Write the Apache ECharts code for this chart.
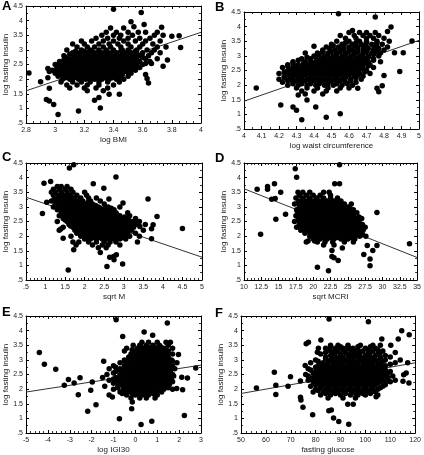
<!DOCTYPE html>
<html><head><meta charset="utf-8">
<script src="https://cdn.jsdelivr.net/npm/echarts@6/dist/echarts.min.js"></script>
<style>html,body{margin:0;padding:0;background:#fff}#c{width:424px;height:455px}</style>
</head><body><div id="c"></div>
<script>
// ---------- DATA ----------
const insulinName = 'log fasting insulin';
const yTickMin = 0.5, yTickMax = 4.5, yTickStep = 0.5;

// Panel A: log BMI
const bmiOutliers = [[3.40,4.39],[3.59,4.28],[2.82,2.21],[2.90,1.91],[2.95,2.05],[2.95,2.36],[2.96,2.26],[2.96,1.69],[2.94,1.30],[2.96,1.25],[2.99,1.13],[3.02,0.79],[3.16,0.91],[3.27,1.28],[3.30,1.37],[3.31,1.01],[3.37,1.48],[3.44,1.48],[3.52,3.96],[3.54,3.79],[3.61,3.87],[3.73,3.77],[3.80,3.47],[3.85,3.48],[3.86,3.08],[3.77,2.65],[3.74,2.44],[3.62,2.16],[3.63,2.02],[3.64,1.87],[3.62,2.53],[3.66,2.53]];
const bmiRows = [
 [3.75,[3.38,3.47]],
 [3.6,[3.35,3.42,3.5,3.57,3.62,3.7]],
 [3.5,[3.32,3.4,3.45,3.53,3.68,3.74]],
 [3.4,[3.28,3.36,3.44,3.5,3.58,3.65]],
 [3.3,[3.18,3.25,3.33,3.4,3.47,3.55,3.62,3.72]],
 [3.2,[3.12,3.2,3.3,3.37,3.43,3.5,3.6,3.67]],
 [3.1,[3.15,3.22,3.27,3.33,3.38,3.45,3.52,3.58,3.7,3.76]],
 [3.0,[3.08,3.18,3.24,3.3,3.35,3.4,3.46,3.5,3.56,3.63,3.68]],
 [2.9,[3.12,3.17,3.22,3.27,3.32,3.37,3.42,3.47,3.52,3.6,3.66,3.72]],
 [2.8,[3.06,3.13,3.18,3.23,3.28,3.33,3.38,3.43,3.48,3.53,3.58,3.64]],
 [2.7,[3.1,3.15,3.2,3.25,3.3,3.35,3.4,3.45,3.5,3.55,3.62,3.7]],
 [2.6,[3.03,3.08,3.13,3.18,3.23,3.28,3.33,3.38,3.43,3.48,3.53,3.58,3.65]],
 [2.5,[3.0,3.06,3.11,3.16,3.21,3.26,3.31,3.36,3.41,3.46,3.51,3.56,3.6]],
 [2.4,[3.02,3.08,3.13,3.18,3.23,3.28,3.33,3.38,3.43,3.48,3.53,3.58]],
 [2.3,[2.98,3.04,3.09,3.14,3.19,3.24,3.29,3.34,3.39,3.44,3.5,3.55]],
 [2.2,[3.0,3.06,3.11,3.16,3.21,3.26,3.31,3.36,3.41,3.46,3.52]],
 [2.1,[3.02,3.08,3.13,3.18,3.23,3.28,3.33,3.38,3.43,3.5]],
 [2.0,[3.05,3.1,3.16,3.21,3.27,3.32,3.37,3.42,3.47]],
 [1.9,[3.04,3.12,3.18,3.24,3.3,3.36,3.44]],
 [1.8,[3.08,3.15,3.22,3.3,3.4]],
 [1.7,[3.1,3.2,3.28,3.36]],
 [1.6,[3.22,3.33]],
 [2.95,[3.14,3.2,3.25,3.3,3.35,3.4,3.45,3.5,3.55]],
 [2.85,[3.1,3.16,3.21,3.26,3.31,3.36,3.41,3.46,3.51,3.56]],
 [2.75,[3.07,3.13,3.18,3.23,3.28,3.33,3.38,3.43,3.48,3.53,3.6]],
 [2.65,[3.06,3.11,3.16,3.21,3.26,3.31,3.36,3.41,3.46,3.51,3.56]],
 [2.55,[3.03,3.09,3.14,3.19,3.24,3.29,3.34,3.39,3.44,3.49,3.54]],
 [2.45,[3.05,3.1,3.15,3.2,3.25,3.3,3.35,3.4,3.45,3.5,3.55]],
 [2.35,[3.01,3.07,3.12,3.17,3.22,3.27,3.32,3.37,3.42,3.47,3.52]],
 [2.25,[3.03,3.08,3.13,3.18,3.23,3.28,3.33,3.38,3.43,3.49]],
 [2.15,[3.05,3.1,3.15,3.2,3.25,3.3,3.35,3.4,3.46]],
 [2.05,[3.07,3.13,3.18,3.24,3.29,3.34,3.39,3.44]]
];
const bmiFit = [[2.8,1.60],[4.0,3.60]];
const bmiTicks = {min:2.8, max:4, step:0.2, minor:4};

// Panel B: log waist circumference
const waistOutliers = [[4.54,4.44],[4.75,4.33],[4.07,1.90],[4.21,1.32],[4.28,1.25],[4.30,1.14],[4.33,0.82],[4.41,1.25],[4.47,0.90],[4.55,1.02],[4.31,1.66],[4.36,1.49],[4.84,3.99],[4.96,3.51],[4.91,3.11],[4.86,3.11],[4.89,2.47],[4.80,2.33],[4.76,1.89],[4.77,1.77],[4.79,1.98],[4.65,1.89],[4.82,3.83],[4.40,3.33],[4.62,3.87]];
const waistRows = [
 [3.8,[4.6,4.66,4.7,4.75]],
 [3.7,[4.55,4.63,4.68,4.72,4.77]],
 [3.6,[4.58,4.64,4.7,4.74,4.8]],
 [3.5,[4.53,4.6,4.66,4.7,4.76,4.83]],
 [3.4,[4.5,4.56,4.62,4.67,4.73,4.79]],
 [3.3,[4.47,4.54,4.6,4.65,4.7,4.76,4.82]],
 [3.2,[4.45,4.52,4.57,4.62,4.68,4.74,4.8]],
 [3.1,[4.35,4.42,4.48,4.53,4.58,4.63,4.68,4.73,4.78]],
 [3.0,[4.4,4.46,4.51,4.56,4.61,4.66,4.71,4.77]],
 [2.9,[4.33,4.38,4.44,4.49,4.54,4.59,4.64,4.69,4.74]],
 [2.8,[4.28,4.35,4.41,4.46,4.51,4.56,4.61,4.66,4.71,4.78]],
 [2.7,[4.25,4.31,4.37,4.42,4.47,4.52,4.57,4.62,4.67,4.72]],
 [2.6,[4.22,4.28,4.33,4.38,4.43,4.48,4.53,4.58,4.63,4.68,4.74]],
 [2.5,[4.25,4.3,4.35,4.4,4.45,4.5,4.55,4.6,4.65,4.7]],
 [2.4,[4.2,4.26,4.31,4.36,4.41,4.46,4.51,4.56,4.61,4.66,4.72]],
 [2.3,[4.23,4.28,4.33,4.38,4.43,4.48,4.53,4.58,4.63,4.68]],
 [2.2,[4.2,4.26,4.31,4.36,4.41,4.46,4.51,4.56,4.61,4.67]],
 [2.1,[4.22,4.28,4.33,4.38,4.43,4.48,4.53,4.58,4.64]],
 [2.0,[4.25,4.31,4.36,4.41,4.46,4.51,4.56,4.62]],
 [1.9,[4.3,4.36,4.42,4.48,4.55,4.6]],
 [1.8,[4.33,4.4,4.47,4.53]],
 [1.7,[4.35,4.45]],
 [3.45,[4.58,4.64,4.7,4.76]],
 [3.35,[4.51,4.57,4.63,4.68,4.74]],
 [3.25,[4.49,4.55,4.6,4.65,4.71,4.77]],
 [3.15,[4.45,4.5,4.55,4.6,4.65,4.7,4.76]],
 [3.05,[4.43,4.48,4.53,4.58,4.63,4.68,4.74]],
 [2.95,[4.36,4.41,4.46,4.51,4.56,4.61,4.66,4.71]],
 [2.85,[4.31,4.38,4.43,4.48,4.53,4.58,4.63,4.68,4.74]],
 [2.75,[4.28,4.34,4.39,4.44,4.49,4.54,4.59,4.64,4.69]],
 [2.65,[4.25,4.3,4.35,4.4,4.45,4.5,4.55,4.6,4.65,4.71]],
 [2.55,[4.27,4.32,4.37,4.42,4.47,4.52,4.57,4.62,4.67]],
 [2.45,[4.23,4.28,4.33,4.38,4.43,4.48,4.53,4.58,4.63,4.69]],
 [2.35,[4.25,4.3,4.35,4.4,4.45,4.5,4.55,4.6,4.65]],
 [2.25,[4.23,4.28,4.33,4.38,4.43,4.48,4.53,4.58,4.64]],
 [2.15,[4.25,4.3,4.35,4.4,4.45,4.5,4.55,4.61]],
 [2.05,[4.28,4.33,4.38,4.43,4.48,4.53,4.59]]
];
const waistFit = [[4.0,1.45],[5.0,3.53]];
const waistTicks = {min:4, max:5, step:0.1, minor:2};

// Panel C: sqrt M
const sqrtMOutliers = [[1.72,4.44],[1.61,4.33],[2.80,4.02],[0.92,2.77],[0.96,3.81],[1.13,3.87],[1.03,3.16],[3.62,3.27],[3.85,2.67],[4.50,2.26],[1.58,0.84],[2.57,0.96],[2.97,1.05],[2.74,1.30],[2.81,1.36],[2.64,1.28],[2.75,1.19],[2.40,1.44],[1.72,1.53],[1.78,1.70],[2.49,3.64],[2.22,3.79],[2.62,3.27],[2.98,3.13],[3.71,1.91],[3.71,2.25],[3.75,2.39],[3.34,2.44],[3.41,2.33],[1.45,1.93],[1.39,2.24]];
const sqrtMRows = [
 [3.7,[1.3,1.4,1.55]],
 [3.6,[1.2,1.35,1.5,1.65]],
 [3.5,[1.15,1.25,1.4,1.55,1.7,2.0]],
 [3.4,[1.2,1.3,1.45,1.6,1.8,2.05]],
 [3.3,[1.3,1.4,1.55,1.7,1.9,2.1,2.3]],
 [3.2,[1.15,1.35,1.5,1.65,1.8,1.95,2.15,2.4]],
 [3.1,[1.25,1.4,1.55,1.7,1.85,2.0,2.2,2.5]],
 [3.0,[1.2,1.35,1.5,1.62,1.75,1.9,2.05,2.2,2.35,2.6,2.9]],
 [2.9,[1.3,1.45,1.58,1.7,1.82,1.95,2.08,2.2,2.33,2.45,2.6,2.75]],
 [2.8,[1.4,1.52,1.65,1.77,1.9,2.02,2.15,2.27,2.4,2.52,2.65,2.8,3.1]],
 [2.7,[1.35,1.5,1.62,1.75,1.87,2.0,2.12,2.25,2.37,2.5,2.62,2.75,2.9,3.15]],
 [2.6,[1.45,1.58,1.7,1.83,1.95,2.08,2.2,2.32,2.45,2.57,2.7,2.82,2.95,3.1,3.3]],
 [2.5,[1.3,1.55,1.68,1.8,1.92,2.05,2.17,2.3,2.42,2.55,2.67,2.8,2.92,3.05,3.2,3.4]],
 [2.4,[1.6,1.75,1.88,2.0,2.12,2.25,2.37,2.5,2.62,2.75,2.87,3.0,3.15,3.3,3.55]],
 [2.3,[1.45,1.7,1.82,1.95,2.07,2.2,2.32,2.45,2.57,2.7,2.82,2.95,3.1,3.25]],
 [2.2,[1.35,1.75,1.9,2.02,2.15,2.27,2.4,2.52,2.65,2.77,2.9,3.02,3.2,3.5]],
 [2.1,[1.8,1.95,2.1,2.22,2.35,2.47,2.6,2.72,2.85,2.97,3.1,3.3]],
 [2.0,[1.65,1.9,2.05,2.2,2.32,2.45,2.57,2.7,2.82,2.95,3.15,3.4]],
 [1.9,[2.0,2.15,2.3,2.45,2.6,2.75,2.9,3.05]],
 [1.8,[1.7,1.85,2.1,2.3,2.5,2.65,2.8,3.35]],
 [1.7,[2.2,2.45,2.6,2.9]],
 [1.6,[2.35,2.55]],
 [3.35,[1.25,1.37,1.5,1.65]],
 [3.25,[1.22,1.42,1.58,1.74,1.88]],
 [3.15,[1.32,1.47,1.62,1.76,1.9,2.08]],
 [3.05,[1.28,1.43,1.56,1.68,1.82,1.97,2.12,2.28]],
 [2.95,[1.38,1.51,1.64,1.76,1.88,2.01,2.14,2.27,2.4,2.53,2.68]],
 [2.85,[1.46,1.58,1.71,1.83,1.96,2.08,2.21,2.33,2.46,2.58,2.72]],
 [2.75,[1.44,1.56,1.68,1.81,1.93,2.06,2.18,2.31,2.43,2.56,2.68,2.82]],
 [2.65,[1.52,1.64,1.77,1.89,2.01,2.14,2.26,2.38,2.51,2.63,2.76,2.88,3.02]],
 [2.55,[1.5,1.62,1.74,1.86,1.98,2.11,2.23,2.36,2.48,2.61,2.73,2.86,2.98,3.12]],
 [2.45,[1.68,1.81,1.94,2.06,2.18,2.31,2.43,2.56,2.68,2.81,2.93,3.07,3.22]],
 [2.35,[1.64,1.76,1.88,2.01,2.13,2.26,2.38,2.51,2.63,2.76,2.88,3.02,3.17]],
 [2.25,[1.82,1.96,2.08,2.21,2.33,2.46,2.58,2.71,2.83,2.96,3.1]],
 [2.15,[1.88,2.02,2.16,2.28,2.41,2.53,2.66,2.78,2.91,3.04]],
 [2.05,[1.98,2.12,2.26,2.39,2.51,2.64,2.76,2.89,3.05]],
 [1.95,[2.08,2.22,2.38,2.52,2.67,2.82,2.98]]
];
const sqrtMFit = [[0.5,3.33],[5.0,1.28]];
const sqrtMTicks = {min:0.5, max:5, step:0.5, minor:5};

// Panel D: sqrt MCRI
const mcriOutliers = [[11.9,3.60],[12.4,2.06],[13.4,3.70],[13.4,3.60],[14.4,3.79],[14.0,3.26],[14.5,3.29],[14.6,2.58],[15.3,3.50],[16.0,2.75],[17.4,4.30],[17.6,4.01],[23.8,4.44],[23.1,3.79],[23.8,3.79],[33.9,1.74],[29.2,2.81],[29.2,1.68],[28.6,1.51],[27.8,1.68],[28.2,1.22],[28.2,0.99],[27.3,1.37],[20.6,0.94],[22.2,0.82],[22.7,1.30],[23.0,1.26],[23.6,1.17],[22.7,1.51],[24.2,1.59],[20.2,1.83],[20.4,1.99],[19.25,1.83]];
const mcriRows = [
 [3.5,[17.8,18.5,19.5,21.5,22.3]],
 [3.4,[18.0,19.0,20.0,21.0,22.5]],
 [3.3,[17.5,18.5,19.5,20.5,21.5,22.5,23.5]],
 [3.2,[18.0,19.0,20.0,21.0,22.0,23.0,24.0]],
 [3.1,[17.3,18.5,19.5,20.5,21.5,22.5,23.5,24.5,25.5]],
 [3.0,[18.0,19.0,20.0,21.0,22.0,23.0,24.0,25.0]],
 [2.9,[17.6,18.6,19.5,20.4,21.3,22.2,23.1,24.0,24.9,25.8]],
 [2.8,[18.2,19.1,20.0,20.9,21.8,22.7,23.6,24.5,25.4,26.3]],
 [2.7,[17.5,18.6,19.5,20.4,21.3,22.2,23.1,24.0,24.9,25.8]],
 [2.6,[18.0,19.0,19.9,20.8,21.7,22.6,23.5,24.4,25.3,26.2,27.0]],
 [2.5,[17.3,18.5,19.4,20.3,21.2,22.1,23.0,23.9,24.8,25.7,26.6]],
 [2.4,[18.0,19.0,19.9,20.8,21.7,22.6,23.5,24.4,25.3,26.2,27.1]],
 [2.3,[17.6,18.6,19.5,20.4,21.3,22.2,23.1,24.0,24.9,25.8,26.7,27.5]],
 [2.2,[18.2,19.2,20.1,21.0,21.9,22.8,23.7,24.6,25.5,26.4,27.2]],
 [2.1,[18.8,19.8,20.7,21.6,22.5,23.4,24.3,25.2,26.1,27.0]],
 [2.0,[19.5,20.4,21.3,22.2,23.1,24.0,24.9,25.8,26.7,27.6]],
 [1.9,[20.0,21.0,22.0,23.0,24.0,25.0,26.0]],
 [1.8,[19.0,20.6,21.7,22.8,24.5,25.8]],
 [1.7,[21.5,23.0]],
 [3.25,[18.5,19.5,20.5,21.5,22.5,23.5]],
 [3.15,[17.8,19.0,20.0,21.0,22.0,23.0,24.0]],
 [3.05,[18.5,19.5,20.5,21.5,22.5,23.5,24.5]],
 [2.95,[18.1,19.0,19.9,20.8,21.7,22.6,23.5,24.4,25.3]],
 [2.85,[17.7,18.6,19.5,20.4,21.3,22.2,23.1,24.0,24.9,25.8]],
 [2.75,[18.1,19.0,19.9,20.8,21.7,22.6,23.5,24.4,25.3]],
 [2.65,[18.5,19.4,20.3,21.2,22.1,23.0,23.9,24.8,25.7,26.6]],
 [2.55,[17.8,18.9,19.8,20.7,21.6,22.5,23.4,24.3,25.2,26.1]],
 [2.45,[18.5,19.4,20.3,21.2,22.1,23.0,23.9,24.8,25.7,26.6]],
 [2.35,[18.1,19.0,19.9,20.8,21.7,22.6,23.5,24.4,25.3,26.2,27.0]],
 [2.25,[18.7,19.6,20.5,21.4,22.3,23.2,24.1,25.0,25.9,26.8]],
 [2.15,[19.3,20.2,21.1,22.0,22.9,23.8,24.7,25.6,26.5]],
 [2.05,[19.9,20.8,21.7,22.6,23.5,24.4,25.3,26.2,27.1]],
 [1.95,[20.5,21.5,22.5,23.5,24.5,25.5]]
];
const mcriFit = [[10,3.62],[35,1.27]];
const mcriTicks = {min:10, max:35, step:2.5, minor:5};

// Panel E: log IGI30
const igiOutliers = [[-4.39,3.25],[-4.16,2.85],[-3.64,2.68],[-3.25,2.13],[-3.06,2.33],[-2.80,2.21],[-2.53,2.39],[-2.61,1.81],[-2.18,1.24],[-2.04,1.96],[-1.97,2.24],[-1.80,1.47],[-0.88,4.37],[1.46,4.26],[-0.73,0.99],[0.26,0.79],[0.75,0.90],[2.24,1.10],[2.76,2.72],[2.38,2.38],[1.97,3.18],[2.12,2.41],[1.89,2.02],[2.16,1.98],[0.40,3.95],[0.79,3.84],[-0.58,3.80],[-0.17,1.33],[-0.14,1.56],[-1.05,1.73],[-1.45,2.95]];
const igiRows = [
 [3.6,[0.3,0.6,1.0,1.4,1.6]],
 [3.5,[-0.1,0.2,0.5,0.8,1.1,1.5]],
 [3.4,[-0.4,0.1,0.4,0.7,1.0,1.3,1.7]],
 [3.3,[-0.5,0.0,0.3,0.6,0.9,1.2,1.5]],
 [3.2,[-0.2,0.15,0.45,0.75,1.05,1.35,1.7]],
 [3.1,[-0.3,0.0,0.3,0.6,0.9,1.2,1.5]],
 [3.0,[-0.5,-0.15,0.15,0.45,0.75,1.05,1.35,1.65]],
 [2.9,[-0.7,-0.3,0.0,0.3,0.6,0.9,1.2,1.5,1.9]],
 [2.8,[-1.0,-0.5,-0.15,0.15,0.45,0.75,1.05,1.35,1.7]],
 [2.7,[-1.2,-0.7,-0.35,0.0,0.3,0.6,0.9,1.2,1.5,1.8]],
 [2.6,[-0.9,-0.5,-0.2,0.1,0.4,0.7,1.0,1.3,1.6]],
 [2.5,[-1.3,-0.7,-0.4,-0.1,0.2,0.5,0.8,1.1,1.4,1.7]],
 [2.4,[-1.5,-0.9,-0.55,-0.25,0.05,0.35,0.65,0.95,1.25,1.55]],
 [2.3,[-1.2,-0.8,-0.45,-0.15,0.15,0.45,0.75,1.05,1.35,1.65]],
 [2.2,[-1.0,-0.6,-0.3,0.0,0.3,0.6,0.9,1.2,1.5]],
 [2.1,[-1.4,-0.8,-0.45,-0.15,0.15,0.45,0.75,1.05,1.4]],
 [2.0,[-1.0,-0.55,-0.25,0.05,0.35,0.65,0.95,1.3,1.7]],
 [1.9,[-0.7,-0.35,-0.05,0.25,0.55,0.85,1.2]],
 [1.8,[-1.2,-0.4,0.0,0.3,0.6,1.0]],
 [1.7,[-0.2,0.2,0.5,0.9]],
 [3.45,[0.25,0.55,0.85,1.15]],
 [3.35,[-0.15,0.2,0.45,0.75,1.05,1.4]],
 [3.25,[0.0,0.3,0.6,0.9,1.2,1.5]],
 [3.15,[-0.15,0.15,0.45,0.75,1.05,1.35]],
 [3.05,[-0.3,0.0,0.3,0.6,0.9,1.2,1.5]],
 [2.95,[-0.5,-0.15,0.15,0.45,0.75,1.05,1.35,1.7]],
 [2.85,[-0.3,0.0,0.3,0.6,0.9,1.2,1.5]],
 [2.75,[-0.9,-0.5,-0.15,0.15,0.45,0.75,1.05,1.35,1.65]],
 [2.65,[-0.7,-0.35,-0.05,0.25,0.55,0.85,1.15,1.45]],
 [2.55,[-1.0,-0.55,-0.25,0.05,0.35,0.65,0.95,1.25,1.55]],
 [2.45,[-0.7,-0.4,-0.1,0.2,0.5,0.8,1.1,1.4,1.75]],
 [2.35,[-1.0,-0.6,-0.3,0.0,0.3,0.6,0.9,1.2,1.5]],
 [2.25,[-0.8,-0.45,-0.15,0.15,0.45,0.75,1.05,1.35,1.7]],
 [2.15,[-0.6,-0.3,0.0,0.3,0.6,0.9,1.2,1.55]],
 [2.05,[-0.8,-0.4,-0.1,0.2,0.5,0.8,1.1,1.5]],
 [1.95,[-0.5,-0.2,0.1,0.4,0.7,1.0]],
 [1.85,[-0.6,-0.15,0.15,0.45,0.8]]
];
const igiFit = [[-5,1.90],[3,2.82]];
const igiTicks = {min:-5, max:3, step:1, minor:5};

// Panel F: fasting glucose
const glucoseOutliers = [[56.2,2.04],[63.4,2.58],[64.0,2.13],[64.0,1.82],[68.9,2.10],[69.9,2.42],[73.9,2.28],[73.9,1.72],[74.1,1.63],[74.9,1.38],[75.8,2.81],[76.2,3.55],[77.1,3.60],[78.8,1.12],[80.7,3.26],[81.1,3.40],[82.1,3.68],[85.4,4.40],[85.3,1.26],[86.3,1.29],[87.2,1.01],[89.3,0.89],[93.3,0.80],[92.9,1.48],[95.1,1.48],[101.2,4.30],[110.2,3.50],[113.2,3.71],[114.6,4.00],[117.6,3.86],[115.4,2.49],[115.1,2.27],[117.5,2.21],[116.4,2.55],[106.6,3.71],[104.3,1.74],[112.0,3.25],[114.0,3.00],[117.0,2.90]];
const glucoseRows = [
 [3.5,[86,89,93,98,103,106]],
 [3.4,[84,88,91,95,100,104]],
 [3.3,[86,89,92,96,99,103,107]],
 [3.2,[82,87,90,94,97,101,105]],
 [3.1,[84,88,91,95,98,102,106,110]],
 [3.0,[80,86,89,92,95,98,101,104,108]],
 [2.9,[78,83,87,90,93,96,99,102,105,112]],
 [2.8,[81,84,87,90,93,96,99,102,105,108]],
 [2.7,[77,82,85,88,91,94,97,100,103,106]],
 [2.6,[80,83,86,89,92,95,98,101,104,107,110]],
 [2.5,[76,81,84,87,90,93,96,99,102,105,108]],
 [2.4,[79,82,85,88,91,94,97,100,103,106,109]],
 [2.3,[77,80,83,86,89,92,95,98,101,104,107,112]],
 [2.2,[81,84,87,90,93,96,99,102,105,108]],
 [2.1,[78,82,85,88,91,94,97,100,103,107]],
 [2.0,[80,84,87,90,93,96,99,102,105]],
 [1.9,[79,83,86,89,92,95,98,101,104]],
 [1.8,[82,86,90,94,97,100,105]],
 [1.7,[85,91,96]],
 [3.45,[86,90,93,97,102]],
 [3.35,[85,88,91,94,97,101,105]],
 [3.25,[84,88,92,95,98,102,106]],
 [3.15,[86,90,93,96,100,104,108]],
 [3.05,[84,87,90,94,97,100,103,106]],
 [2.95,[81,85,88,91,94,97,100,103,107]],
 [2.85,[82,85,88,91,94,97,100,103,106,110]],
 [2.75,[80,83,86,89,92,95,98,101,104,107]],
 [2.65,[78,81,84,87,90,93,96,99,102,105,108]],
 [2.55,[79,82,85,88,91,94,97,100,103,106,109]],
 [2.45,[77,80,83,86,89,92,95,98,101,104,107,111]],
 [2.35,[78,81,84,87,90,93,96,99,102,105,109]],
 [2.25,[79,82,85,88,91,94,97,100,103,106,110]],
 [2.15,[80,83,86,89,92,95,98,101,104,108]],
 [2.05,[82,85,88,91,94,97,100,103,106]],
 [1.95,[81,85,88,91,94,97,100,103]],
 [1.85,[84,88,92,96,99,102]]
];
const glucoseFit = [[50,1.85],[120,2.90]];
const glucoseTicks = {min:50, max:120, step:10, minor:5};

const panelLetters = ['A','B','C','D','E','F'];
const xNames = ['log BMI','log waist circumference','sqrt M','sqrt MCRI','log IGI30','fasting glucose'];

// ---------- LAYOUT / STYLE ----------
const grids = [
  {left:26, top:6,   width:175, height:117},
  {left:244,top:12,  width:175, height:117},
  {left:26, top:163, width:176, height:117},
  {left:244,top:163, width:175, height:117},
  {left:26, top:316, width:175, height:117},
  {left:241,top:316, width:178, height:117}
];
const letterPos = [[0,0],[213,1],[0,151],[213,152],[0,306],[213,307]];

const outliers = [bmiOutliers, waistOutliers, sqrtMOutliers, mcriOutliers, igiOutliers, glucoseOutliers];
const rows = [bmiRows, waistRows, sqrtMRows, mcriRows, igiRows, glucoseRows];
const fits = [bmiFit, waistFit, sqrtMFit, mcriFit, igiFit, glucoseFit];
const ticks = [bmiTicks, waistTicks, sqrtMTicks, mcriTicks, igiTicks, glucoseTicks];

const FONT = 'Liberation Sans, Arial, sans-serif';
function fmt(v){
  let s = String(+(+v).toFixed(3));
  return s.replace(/^0\./,'.').replace(/^-0\./,'-.');
}
const lineStyle = {color:'#000', width:1};

const xAxis = [], yAxis = [], series = [], graphic = [];
for (let i = 0; i < 6; i++) {
  const t = ticks[i];
  const common = {gridIndex:i, type:'value', min:t.min, max:t.max, interval:t.step,
    splitLine:{show:false}, axisLine:{show:true, onZero:false, lineStyle},
    axisTick:{show:true, inside:true, length:3, lineStyle},
    minorTick:{show:true, splitNumber:t.minor, length:2, lineStyle:{color:'#000',width:0.8}}};
  xAxis.push(Object.assign({}, common, {position:'bottom',
    axisLabel:{show:true, fontSize:7, color:'#222', fontFamily:FONT, margin:4, formatter:fmt, showMinLabel:true, showMaxLabel:true, hideOverlap:false},
    name:xNames[i], nameLocation:'middle', nameGap:13, nameTextStyle:{fontSize:8, color:'#222', fontFamily:FONT}}));
  xAxis.push(Object.assign({}, common, {position:'top', axisLabel:{show:false}}));
  const ycommon = {gridIndex:i, type:'value', min:yTickMin, max:yTickMax, interval:yTickStep,
    splitLine:{show:false}, axisLine:{show:true, onZero:false, lineStyle},
    axisTick:{show:true, inside:true, length:3, lineStyle},
    minorTick:{show:true, splitNumber:2, length:2, lineStyle:{color:'#000',width:0.8}}};
  yAxis.push(Object.assign({}, ycommon, {position:'left',
    axisLabel:{show:true, fontSize:7, color:'#222', fontFamily:FONT, margin:3, formatter:fmt, showMinLabel:true, showMaxLabel:true, hideOverlap:false},
    name:insulinName, nameLocation:'middle', nameGap:15, nameTextStyle:{fontSize:8, color:'#222', fontFamily:FONT}}));
  yAxis.push(Object.assign({}, ycommon, {position:'right', axisLabel:{show:false}}));

  const pts = outliers[i].slice();
  rows[i].forEach(r => r[1].forEach(x => pts.push([x, r[0]])));
  series.push({type:'scatter', xAxisIndex:2*i, yAxisIndex:2*i, data:pts, symbol:'circle', symbolSize:5.5,
    itemStyle:{color:'#000', opacity:1}, silent:true, animation:false, large:false});
  series.push({type:'line', xAxisIndex:2*i, yAxisIndex:2*i, data:fits[i], showSymbol:false, symbol:'none',
    lineStyle:{color:'#333', width:1}, silent:true, animation:false, z:1});
  graphic.push({type:'text', left:letterPos[i][0]+2, top:letterPos[i][1], style:{text:panelLetters[i], font:'bold 13px '+FONT, fill:'#000'}});
}

const chart = echarts.init(document.getElementById('c'), null, {renderer:'canvas'});
chart.setOption({animation:false, backgroundColor:'#fff', grid:grids, xAxis, yAxis, series, graphic});
</script></body></html>
